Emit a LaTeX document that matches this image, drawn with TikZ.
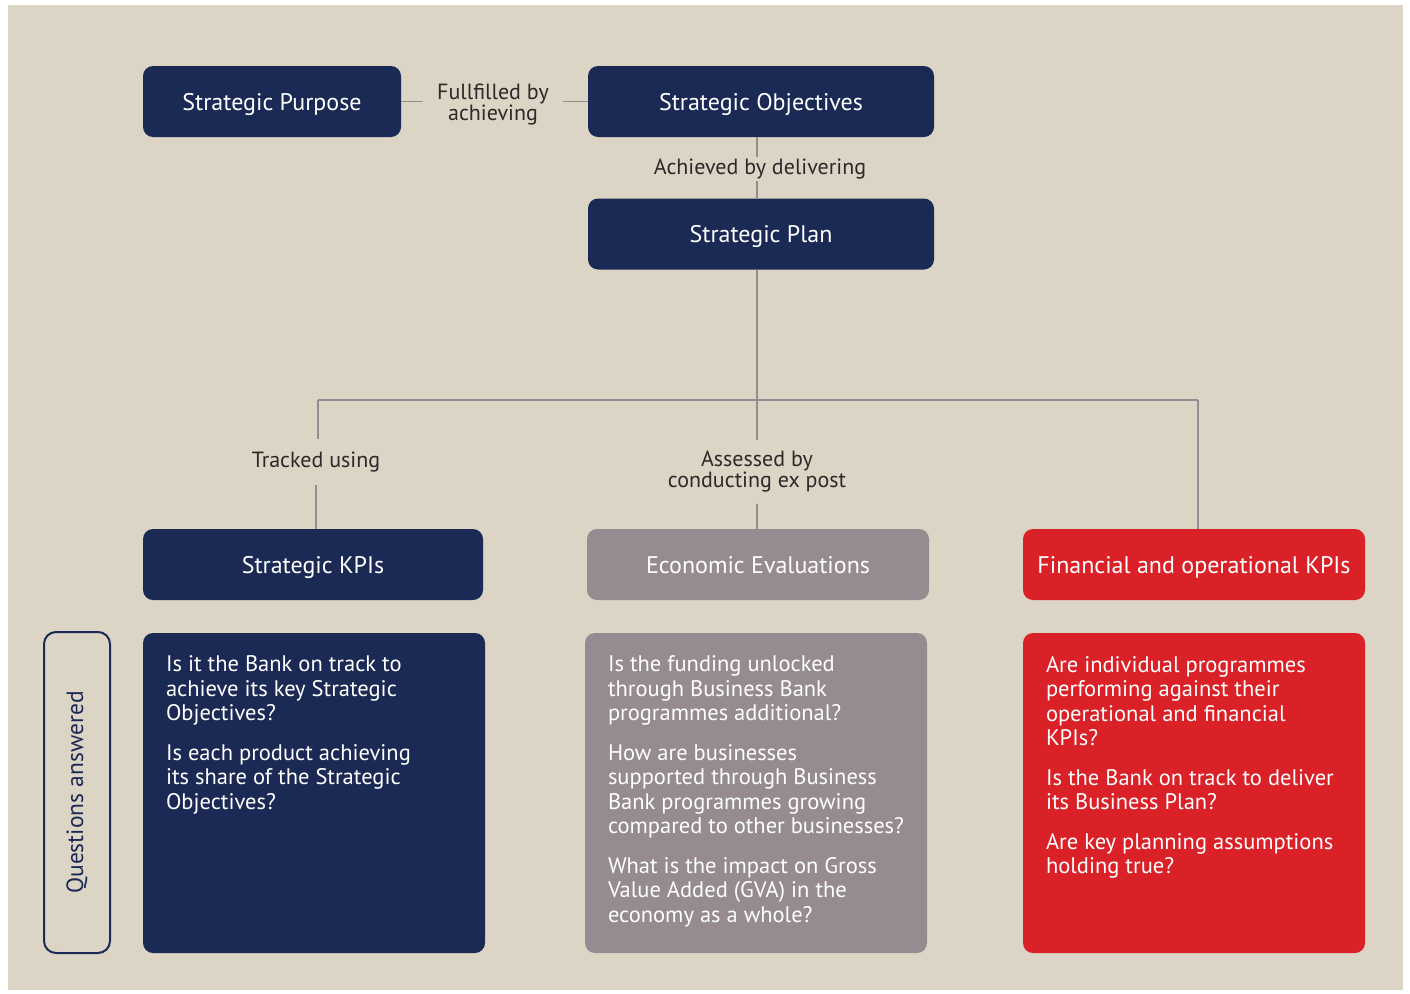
\documentclass[tikz,border=0pt]{standalone}
\usepackage{fontspec}
\setmainfont{PT Sans}
\usepackage{xcolor}
\usetikzlibrary{positioning}

\definecolor{navy}{HTML}{1B2A55}
\definecolor{sand}{HTML}{DCD5C6}
\definecolor{mauve}{HTML}{958B91}
\definecolor{bankred}{HTML}{DA2128}
\definecolor{ink}{HTML}{2B2A29}

\newcommand{\qlist}[1]{\begin{minipage}[t][274pt][t]{296pt}\raggedright\setlength{\parskip}{15pt}#1\end{minipage}}

\begin{document}
\begin{tikzpicture}[
    x=1pt, y=-1pt,
    head/.style={
        rounded corners=10pt, inner sep=0pt,
        minimum height=71pt, text=white,
        text height=17pt, text depth=0pt,
        font=\fontsize{24}{28}\selectfont
    },
    quest/.style={
        rounded corners=10pt, inner sep=0pt,
        minimum width=342pt, minimum height=320pt, text=white,
        font=\fontsize{22.5}{24.5}\selectfont
    },
    lbl/.style={text=ink, align=center, inner xsep=14pt,
        font=\fontsize{22}{21}\selectfont},
    link/.style={draw=mauve, line width=1.8pt}
]

% Page and background
\useasboundingbox[fill=white] (0,0) rectangle (1410,993);
\fill[sand] (8,5) rectangle (1403,990);

% Top row and plan
\node[head, fill=navy, minimum width=258pt] (purpose)    at (272,101.5) {Strategic Purpose};
\node[head, fill=navy, minimum width=346pt] (objectives) at (761,101.5) {Strategic Objectives};
\node[head, fill=navy, minimum width=346pt] (plan)       at (761,234)   {Strategic Plan};

\node[lbl] (fulfil)   at (493,105) {Fullfilled by\\achieving};
\node[lbl, inner ysep=2pt] (achieved) at (760,169) {Achieved by delivering};

% Measures row
\node[head, fill=navy,    minimum width=340pt] (kpi)  at (313,564.5)  {Strategic KPIs};
\node[head, fill=mauve,   minimum width=342pt] (econ) at (758,564.5)  {Economic Evaluations};
\node[head, fill=bankred, minimum width=342pt] (fin)  at (1194,564.5) {Financial and operational KPIs};

\node[lbl, inner ysep=13pt] (tracked)  at (316,462) {Tracked using};
\node[lbl, inner ysep=11pt] (assessed) at (757,472) {Assessed by\\conducting ex post};

% Questions
\node[draw=navy, line width=2pt, rounded corners=12pt, rotate=90,
      minimum width=321pt, minimum height=66pt, text=navy,
      font=\fontsize{23.5}{24.5}\selectfont] (answered) at (77,792.5) {Questions answered};

\node[quest, fill=navy] (q1) at (314,793) {\qlist{%
    Is it the Bank on track to\\achieve its key Strategic\\Objectives?\par
    Is each product achieving\\its share of the Strategic\\Objectives?}};
\node[quest, fill=mauve] (q2) at (756,793) {\qlist{%
    Is the funding unlocked\\through Business Bank\\programmes additional?\par
    How are businesses\\supported through Business\\Bank programmes growing\\compared to other businesses?\par
    What is the impact on Gross\\Value Added (GVA) in the\\economy as a whole?}};
\node[quest, fill=bankred] (q3) at (1194,793) {\qlist{%
    Are individual programmes\\performing against their\\operational and financial\\KPIs?\par
    Is the Bank on track to deliver\\its Business Plan?\par
    Are key planning assumptions\\holding true?}};

% Connectors
\coordinate (trunk) at (757,400);
\coordinate (lt)    at (318,400);
\coordinate (rt)    at (1198,400);

\draw[link] (purpose.east) -- (purpose.east -| fulfil.west);
\draw[link] (objectives.west -| fulfil.east) -- (objectives.west);
\draw[link] (objectives.south -| trunk) -- (achieved.north -| trunk);
\draw[link] (achieved.south -| trunk) -- (plan.north -| trunk);
\draw[link] (plan.south -| trunk) -- (trunk);
\draw[link] (lt) -- (rt);
\draw[link] (lt) -- (lt |- tracked.north);
\draw[link] (tracked.south) -- (kpi.north -| tracked.south);
\draw[link] (trunk) -- (assessed.north);
\draw[link] (assessed.south) -- (econ.north -| assessed.south);
\draw[link] (rt) -- (rt |- fin.north);

\end{tikzpicture}
\end{document}
